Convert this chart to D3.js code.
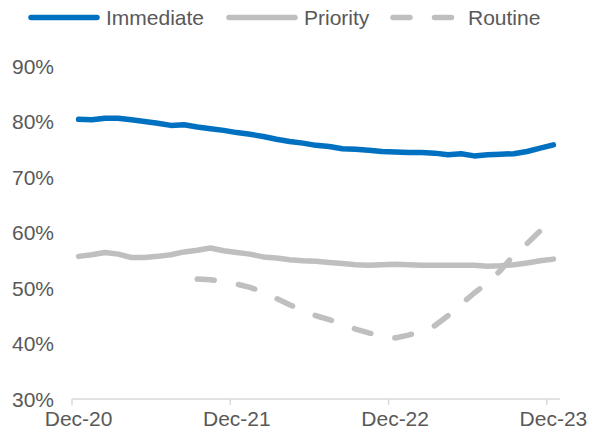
<!DOCTYPE html>
<html>
<head>
<meta charset="utf-8">
<script src="https://cdn.jsdelivr.net/npm/d3@7"></script>
<style>
  html, body { margin: 0; padding: 0; background: #fff; }
  svg { display: block; }
  text { font-family: "Liberation Sans", Arial, sans-serif; fill: #595959; }
</style>
</head>
<body>
<svg id="chart" width="589" height="431"></svg>
<script>
const months = ["Dec-20","Jan-21","Feb-21","Mar-21","Apr-21","May-21","Jun-21","Jul-21","Aug-21","Sep-21","Oct-21","Nov-21",
  "Dec-21","Jan-22","Feb-22","Mar-22","Apr-22","May-22","Jun-22","Jul-22","Aug-22","Sep-22","Oct-22","Nov-22",
  "Dec-22","Jan-23","Feb-23","Mar-23","Apr-23","May-23","Jun-23","Jul-23","Aug-23","Sep-23","Oct-23","Nov-23","Dec-23"];
const tickLabels = ["Dec-20","Dec-21","Dec-22","Dec-23"];
const yTicks = [30, 40, 50, 60, 70, 80, 90];

const immediate = [80.4,80.3,80.6,80.6,80.3,80.0,79.7,79.3,79.4,79.0,78.7,78.4,
  78.0,77.7,77.3,76.8,76.4,76.1,75.7,75.5,75.1,75.0,74.8,74.6,
  74.5,74.4,74.4,74.3,74.0,74.2,73.8,74.0,74.1,74.2,74.6,75.2,75.8];
const priority = [55.7,56.0,56.4,56.1,55.5,55.5,55.7,56.0,56.5,56.8,57.2,56.7,
  56.4,56.1,55.6,55.4,55.1,54.9,54.8,54.6,54.4,54.2,54.1,54.2,
  54.3,54.2,54.1,54.1,54.1,54.1,54.1,53.9,54.0,54.2,54.5,54.9,55.2];
const routine = [null,null,null,null,null,null,null,null,null,51.6,51.5,51.1,
  50.7,50.1,49.3,48.1,47.0,45.9,45.0,44.3,43.5,42.6,41.9,41.4,
  41.0,41.5,42.2,43.2,45.0,47.1,49.1,50.9,53.2,55.9,58.0,60.3,62.2];

const seriesNames = ["Immediate","Priority","Routine"];
const seriesColors = ["#0070C0","#BFBFBF","#BFBFBF"];
const seriesDash = [null, null, "17,24.5"];
const seriesData = [immediate, priority, routine];

const svg = d3.select("#chart");

const x = d3.scalePoint().domain(months).range([72, 560]).padding(0.5);
const step = x.step();
const y = d3.scaleLinear().domain([30, 90]).range([399, 66]);

// Y labels
svg.append("g").selectAll("text").data(yTicks).join("text")
  .attr("x", 54).attr("y", d => y(d) + 7.5)
  .attr("text-anchor", "end").attr("font-size", 21)
  .text(d => d + "%");

// X axis line
svg.append("line").attr("x1", 72).attr("x2", 560).attr("y1", y(30)).attr("y2", y(30))
  .attr("stroke", "#D9D9D9").attr("stroke-width", 1.5);
svg.append("g").selectAll("line").data(tickLabels).join("line")
  .attr("x1", d => x(d) - step / 2).attr("x2", d => x(d) - step / 2)
  .attr("y1", y(30)).attr("y2", y(30) + 6)
  .attr("stroke", "#D9D9D9").attr("stroke-width", 1.5);
svg.append("g").selectAll("text").data(tickLabels).join("text")
  .attr("x", d => x(d)).attr("y", 426)
  .attr("text-anchor", "middle").attr("font-size", 21)
  .text(d => d);

// Lines
const line = d3.line()
  .defined(d => d.v != null)
  .x(d => x(d.m)).y(d => y(d.v));

seriesData.forEach((arr, i) => {
  const pts = months.map((m, j) => ({ m, v: arr[j] }));
  svg.append("path").datum(pts)
    .attr("d", line)
    .attr("fill", "none")
    .attr("stroke", seriesColors[i])
    .attr("stroke-width", 5.5)
    .attr("stroke-linecap", "round")
    .attr("stroke-linejoin", "round")
    .attr("stroke-dasharray", seriesDash[i]);
});

// Legend
const legendX = [31, 229, 393];
const legendTextX = [106, 304, 468];
const lg = svg.append("g");
seriesNames.forEach((name, i) => {
  lg.append("line")
    .attr("x1", legendX[i]).attr("x2", legendX[i] + (i === 2 ? 70 : 66))
    .attr("y1", 17.5).attr("y2", 17.5)
    .attr("stroke", seriesColors[i]).attr("stroke-width", 5.5)
    .attr("stroke-linecap", "round")
    .attr("stroke-dasharray", seriesDash[i]);
  lg.append("text").attr("x", legendTextX[i]).attr("y", 25)
    .attr("font-size", 21).text(name);
});
</script>
</body>
</html>
